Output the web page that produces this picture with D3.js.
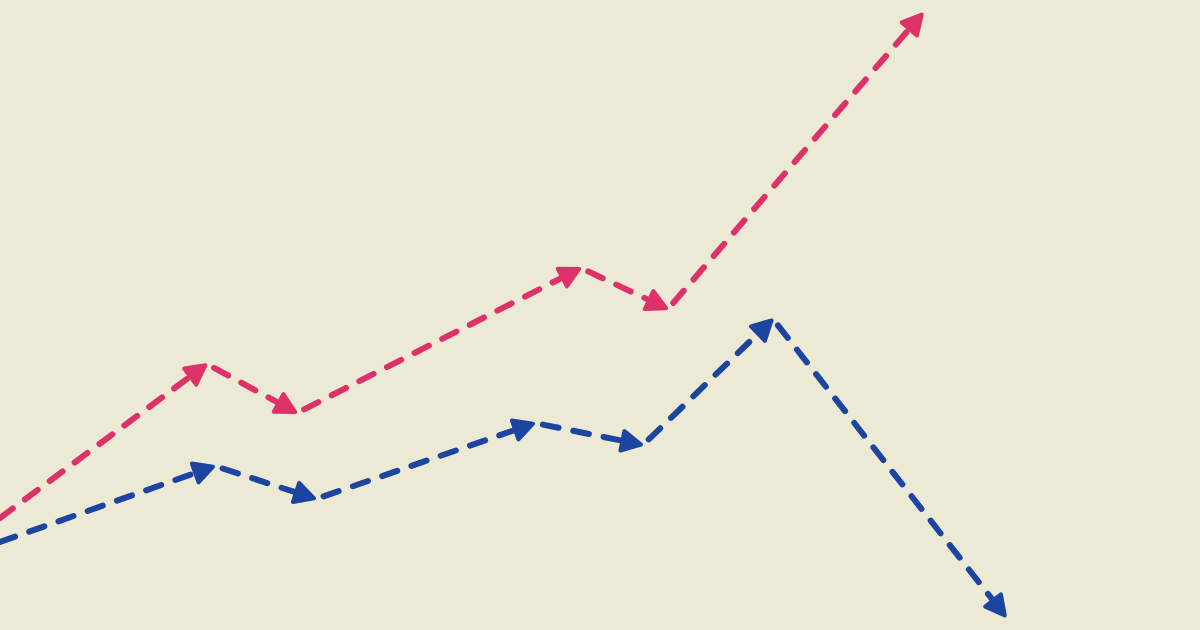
<!DOCTYPE html>
<html>
<head>
<meta charset="utf-8">
<script src="https://cdn.jsdelivr.net/npm/d3@7"></script>
<style>
  html, body { margin: 0; padding: 0; background: #ECEAD4; }
  svg { display: block; }
</style>
</head>
<body>
<div id="chart"></div>
<script>
// Series values (x in steps, y in value units)
var pinkX = [0, 2.07, 2.97, 5.81, 6.68, 9.23];
var pinkY = [11.2, 26.6, 21.7, 36.2, 32.1, 61.7];
var blueX = [0, 2.15, 3.16, 5.35, 6.43, 7.73, 10.06];
var blueY = [8.8, 16.4, 13.1, 20.7, 18.5, 31.1, 1.3];

var COLORS = { bg: '#ECEAD4', pink: '#DF3169', blue: '#1B45A0' };

var width = 1200, height = 630;

var svg = d3.select('#chart').append('svg')
  .attr('width', width).attr('height', height);

svg.append('rect').attr('width', width).attr('height', height).attr('fill', COLORS.bg);

var x = d3.scaleLinear().domain([0, 12]).range([0, 1200]);
var y = d3.scaleLinear().domain([0, 63]).range([630, 0]);

// One dashed segment per step, each ending in a rounded arrowhead.
function drawSeries(xs, ys, color) {
  var pts = xs.map(function (v, i) { return [x(v), y(ys[i])]; });
  var g = svg.append('g');
  var headLen = 19, headW = 20, gap = 8;
  for (var i = 1; i < pts.length; i++) {
    var a = pts[i - 1], b = pts[i];
    var dx = b[0] - a[0], dy = b[1] - a[1];
    var len = Math.sqrt(dx * dx + dy * dy);
    var ux = dx / len, uy = dy / len;
    var s = i === 1 ? a : [a[0] + ux * gap, a[1] + uy * gap];
    var e = [b[0] - ux * headLen * 0.8, b[1] - uy * headLen * 0.8];
    g.append('path')
      .attr('d', d3.line()([s, e]))
      .attr('fill', 'none')
      .attr('stroke', color)
      .attr('stroke-width', 6)
      .attr('stroke-linecap', 'round')
      .attr('stroke-dasharray', '16 15');
    var ang = Math.atan2(dy, dx) * 180 / Math.PI;
    g.append('path')
      .attr('d', 'M0,0 L' + (-headLen) + ',' + (-headW / 2) + ' L' + (-headLen) + ',' + (headW / 2) + ' Z')
      .attr('transform', 'translate(' + (b[0] - ux * 2) + ',' + (b[1] - uy * 2) + ') rotate(' + ang + ')')
      .attr('fill', color)
      .attr('stroke', color)
      .attr('stroke-width', 4)
      .attr('stroke-linejoin', 'round');
  }
}

drawSeries(pinkX, pinkY, COLORS.pink);
drawSeries(blueX, blueY, COLORS.blue);
</script>
</body>
</html>
